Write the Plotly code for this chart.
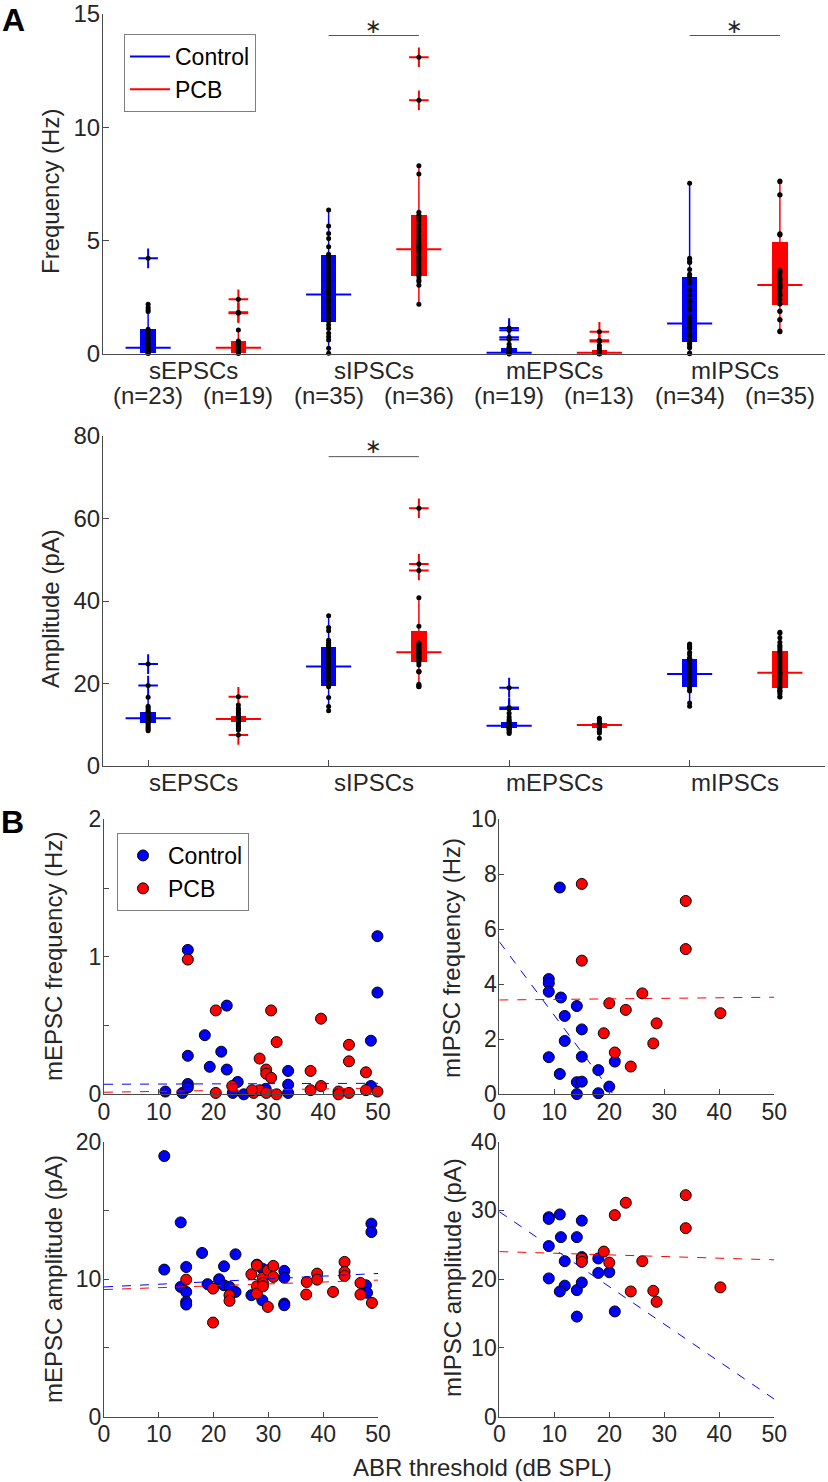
import plotly.graph_objects as go

# ---------------- Panel A data ----------------
positions = [1, 2, 3, 4, 5, 6, 7, 8]
groups = ["Control", "PCB"] * 4
categories = ["sEPSCs", "sIPSCs", "mEPSCs", "mIPSCs"]
n_labels = ["(n=23)", "(n=19)", "(n=35)", "(n=36)", "(n=19)", "(n=13)", "(n=34)", "(n=35)"]

# Frequency (Hz)
freq_q1 = [0.06, 0.06, 1.43, 3.45, 0.03, 0.02, 0.54, 2.16]
freq_med = [0.28, 0.28, 2.63, 4.62, 0.06, 0.06, 1.35, 3.04]
freq_q3 = [1.09, 0.57, 4.37, 6.13, 0.25, 0.18, 3.41, 4.95]
freq_wlo = [0.02, 0.02, 0.03, 2.19, 0.0, 0.0, 0.01, 0.98]
freq_whi = [2.2, 1.06, 6.35, 8.31, 0.43, 0.38, 7.53, 7.63]
freq_out = [[4.22], [1.8, 1.84, 2.41], [], [11.19, 13.09], [0.645, 0.74, 1.05, 1.15], [0.55, 0.61, 0.98], [], []]
freq_pts = [
    [0.02, 0.04, 0.06, 0.09, 0.12, 0.15, 0.19, 0.24, 0.28, 0.33, 0.4, 0.48, 0.56, 0.65, 0.75, 0.88, 1.0, 1.09, 1.87, 1.95, 2.05, 2.2],
    [0.02, 0.04, 0.06, 0.08, 0.1, 0.13, 0.17, 0.21, 0.25, 0.28, 0.33, 0.38, 0.45, 0.52, 0.57, 1.06],
    [0.03, 0.25, 0.62, 0.76, 0.91, 1.13, 1.28, 1.45, 1.6, 1.8, 1.95, 2.09, 2.24, 2.35, 2.46, 2.6, 2.68, 2.75, 2.82, 2.95,
     3.12, 3.25, 3.41, 3.55, 3.71, 3.85, 4.0, 4.15, 4.29, 4.4, 4.73, 5.1, 5.32, 5.65, 6.35],
    [2.19, 3.03, 3.2, 3.26, 3.4, 3.48, 3.55, 3.63, 3.75, 3.85, 3.93, 4.05, 4.15, 4.22, 4.3, 4.44, 4.55, 4.62, 4.7, 4.73,
     4.8, 4.88, 5.0, 5.1, 5.24, 5.4, 5.54, 5.7, 5.87, 6.0, 6.13, 6.25, 7.94, 8.31],
    [0.0, 0.01, 0.02, 0.02, 0.04, 0.06, 0.07, 0.075, 0.09, 0.17, 0.18, 0.2, 0.28, 0.31, 0.43],
    [0.0, 0.01, 0.02, 0.03, 0.04, 0.06, 0.12, 0.17, 0.26, 0.38],
    [0.01, 0.04, 0.28, 0.32, 0.44, 0.46, 0.62, 0.74, 0.76, 0.88, 0.91, 1.13, 1.19, 1.35, 1.37, 1.5, 1.65, 1.94, 2.1, 2.31,
     2.36, 2.6, 2.82, 2.85, 3.12, 3.21, 3.41, 3.52, 3.73, 4.04, 4.07, 4.19, 4.22, 7.53],
    [0.98, 1.01, 1.5, 1.52, 1.87, 1.9, 2.21, 2.22, 2.4, 2.58, 2.6, 2.62, 2.75, 2.9, 2.92, 2.95, 3.0, 3.04, 3.07, 3.1,
     3.2, 3.28, 3.31, 3.35, 3.5, 3.6, 3.66, 3.67, 5.25, 5.28, 5.3, 7.01, 7.03, 7.6, 7.63],
]

# Amplitude (pA)
amp_q1 = [10.35, 10.6, 19.5, 25.1, 9.13, 9.13, 19.2, 18.8]
amp_med = [11.55, 11.4, 24.1, 27.6, 9.78, 9.94, 22.3, 22.6]
amp_q3 = [13.0, 12.2, 28.8, 32.7, 10.75, 10.5, 25.9, 27.9]
amp_wlo = [8.57, 8.7, 13.4, 19.2, 7.9, 6.7, 14.5, 16.7]
amp_whi = [16.65, 14.8, 36.4, 40.8, 12.8, 11.55, 29.6, 32.4]
amp_out = [[19.5, 24.7], [7.5, 16.8], [], [47.4, 49.0, 62.5], [13.8, 14.2, 19.0], [], [], []]
amp_pts = [
    [8.57, 8.9, 9.2, 9.6, 10.0, 10.35, 10.6, 10.9, 11.2, 11.5, 11.55, 11.8, 12.1, 12.4, 12.7, 13.0, 13.3, 13.7, 14.1, 14.5, 16.65],
    [8.7, 9.1, 9.5, 9.9, 10.3, 10.6, 10.9, 11.2, 11.4, 11.7, 12.0, 12.2, 12.6, 13.0, 13.5, 14.0, 14.8],
    [13.4, 14.4, 16.6, 19.2, 19.5, 20.2, 21.0, 21.8, 22.5, 23.0, 23.5, 24.0, 24.1, 24.5, 25.0, 25.5, 26.0, 26.5, 27.0, 27.5,
     28.0, 28.5, 28.8, 29.2, 29.5, 30.0, 30.5, 32.8, 33.6, 36.4, 22.0, 24.8, 26.2, 27.8, 20.5],
    [19.2, 19.3, 19.5, 19.8, 22.9, 23.0, 24.5, 25.1, 25.5, 26.0, 26.3, 26.5, 26.8, 27.0, 27.3, 27.6, 27.9, 28.0, 28.2, 28.5,
     28.8, 29.0, 29.2, 29.5, 29.5, 29.8, 22.8, 25.8, 26.2, 27.1, 27.5, 33.9, 40.8],
    [7.9, 8.2, 8.5, 8.8, 9.0, 9.13, 9.4, 9.6, 9.78, 10.0, 10.3, 10.6, 10.9, 11.3, 11.9, 12.8],
    [6.7, 8.0, 8.4, 8.9, 9.2, 9.5, 9.8, 10.0, 10.2, 10.5, 10.9, 11.2, 11.55],
    [14.5, 15.3, 18.2, 18.4, 19.05, 19.5, 20.1, 20.9, 21.0, 21.5, 22.0, 22.3, 22.6, 23.0, 23.5, 24.0, 24.8, 25.5, 26.1, 26.1,
     27.0, 28.5, 28.75, 29.0, 29.4, 29.6, 19.8, 20.5, 21.2, 22.8, 23.3, 24.3, 25.0, 27.5],
    [16.7, 16.8, 18.2, 18.3, 18.8, 19.5, 20.5, 22.4, 22.5, 22.6, 23.0, 24.0, 25.0, 26.0, 27.4, 28.0, 29.3, 30.0, 31.1, 32.2,
     32.4, 17.5, 18.0, 19.0, 20.0, 21.0, 21.5, 22.0, 23.5, 24.5, 25.5, 26.5, 27.0, 28.5, 29.0],
]

# significance bars: (left position, right position, bar height, star height)
freq_sig = [(3, 4, 14.05, 14.45), (7, 8, 14.05, 14.45)]
amp_sig = [(3, 4, 75.0, 77.6)]

# ---------------- Panel B data ----------------
mepsc_f_ctrl_x = [11.2, 14.3, 15.3, 15.3, 15.3, 15.3, 18.4, 19.3, 21.4, 22.4, 22.4, 23.5, 24.4, 25.5, 29.5, 33.6, 33.6, 33.6, 48.7, 48.7, 49.9, 49.9]
mepsc_f_ctrl_y = [0.02, 0.01, 1.05, 0.28, 0.075, 0.05, 0.43, 0.2, 0.31, 0.645, 0.18, 0.01, 0.09, 0.0, 0.04, 0.17, 0.07, 0.01, 0.39, 0.06, 1.15, 0.74]
mepsc_f_pcb_x = [15.3, 20.4, 20.4, 23.4, 27.3, 28.4, 28.4, 29.6, 29.6, 29.6, 30.5, 30.5, 31.5, 31.5, 37.7, 37.7, 39.6, 39.6, 42.8, 42.8, 44.7, 44.7, 44.7, 47.8, 47.8, 49.9, 27.0]
mepsc_f_pcb_y = [0.98, 0.61, 0.01, 0.06, 0.01, 0.26, 0.03, 0.18, 0.15, 0.01, 0.12, 0.61, 0.38, 0.0, 0.17, 0.03, 0.55, 0.06, 0.02, 0.0, 0.36, 0.24, 0.01, 0.16, 0.03, 0.02, 0.03]

mipsc_f_ctrl_x = [11.0, 9.0, 9.0, 9.0, 11.2, 11.9, 14.1, 11.9, 15.0, 9.0, 15.0, 21.0, 18.0, 11.0, 14.1, 15.0, 20.0, 14.1, 18.0]
mipsc_f_ctrl_y = [7.52, 4.19, 4.04, 3.73, 3.52, 2.85, 3.21, 1.94, 2.36, 1.35, 1.37, 1.19, 0.88, 0.74, 0.44, 0.46, 0.28, 0.01, 0.04]
mipsc_f_pcb_x = [15.0, 33.9, 33.9, 15.0, 26.0, 20.0, 23.0, 28.6, 40.2, 19.0, 28.0, 21.0, 23.9]
mipsc_f_pcb_y = [7.65, 7.03, 5.28, 4.86, 3.67, 3.31, 3.07, 2.58, 2.95, 2.22, 1.85, 1.52, 1.01]

mepsc_a_ctrl_x = [11.0, 14.0, 11.0, 15.0, 14.0, 15.0, 15.0, 15.0, 17.9, 18.9, 21.0, 21.9, 21.9, 22.9, 24.0, 24.0, 26.9, 27.9, 28.9, 28.9, 32.9, 32.9, 32.9, 32.9, 47.8, 48.0, 48.8, 48.8]
mepsc_a_ctrl_y = [18.94, 14.12, 10.69, 10.88, 9.43, 9.07, 8.34, 8.15, 11.9, 9.63, 9.99, 10.93, 9.55, 9.43, 11.8, 9.07, 8.83, 11.05, 10.76, 8.46, 10.6, 10.1, 8.22, 8.1, 9.55, 9.0, 14.03, 13.42]
mepsc_a_pcb_x = [15.0, 19.9, 19.9, 22.9, 22.9, 26.9, 27.9, 27.9, 27.9, 29.0, 29.0, 29.0, 29.9, 29.9, 30.9, 30.9, 37.0, 36.9, 38.9, 38.9, 41.8, 43.9, 43.9, 43.9, 46.8, 46.8, 48.9]
mepsc_a_pcb_y = [9.96, 9.31, 6.84, 8.83, 8.42, 10.35, 11.0, 9.48, 8.95, 10.11, 9.72, 9.48, 7.98, 10.64, 10.96, 10.16, 9.79, 8.88, 10.4, 9.96, 9.07, 11.25, 10.52, 10.23, 9.72, 8.88, 8.27]

mipsc_a_ctrl_x = [9.0, 9.0, 11.0, 9.0, 11.2, 14.1, 15.0, 9.0, 11.9, 11.9, 11.0, 14.1, 15.0, 14.1, 15.0, 18.0, 18.0, 20.0, 21.0]
mipsc_a_ctrl_y = [29.0, 28.75, 29.4, 24.8, 26.1, 26.1, 28.5, 20.1, 22.6, 19.05, 18.2, 18.4, 19.5, 14.55, 23.2, 23.0, 20.9, 21.0, 15.3]
mipsc_a_pcb_x = [15.0, 15.0, 19.0, 20.0, 21.0, 23.0, 23.9, 26.0, 28.0, 28.6, 33.9, 33.9, 40.2]
mipsc_a_pcb_y = [23.0, 22.5, 24.0, 22.4, 29.3, 31.1, 18.2, 22.6, 18.3, 16.7, 32.2, 27.4, 18.8]

# linear fits: (intercept, slope) for Control, PCB
fit_x = [0, 50]
mepsc_f_fit = [(0.073, 0.00014), (0.015, 0.0006)]
mipsc_f_fit = [(5.55, -0.268), (3.43, 0.002)]
mepsc_a_fit = [(9.43, 0.0196), (9.24, 0.0137)]
mipsc_a_fit = [(29.8, -0.545), (24.0, -0.024)]

# ---------------- styling ----------------
BLUE = "#0000ff"
RED = "#ff0000"
TXT = "#262626"
AX = "#4a4a4a"
FONT = "Liberation Sans, Arial, sans-serif"
W, H = 828, 1482
BOX_W = 0.17
MED_HALF = 0.25

fig = go.Figure()


def col(i):
    return BLUE if groups[i] == "Control" else RED


def add_boxes(xa, ya, q1, med, q3, wlo, whi, outs, pts, legend=False):
    for i, p in enumerate(positions):
        c = col(i)
        fig.add_trace(go.Scatter(x=[p, p], y=[wlo[i], whi[i]], mode="lines", line=dict(color=c, width=1.5),
                                 xaxis=xa, yaxis=ya, showlegend=False, hoverinfo="skip"))
        fig.add_trace(go.Bar(x=[p], y=[q3[i] - q1[i]], base=[q1[i]], width=BOX_W, marker=dict(color=c, line=dict(width=0)),
                             xaxis=xa, yaxis=ya, showlegend=False, hoverinfo="skip"))
        fig.add_trace(go.Scatter(x=[p - MED_HALF, p + MED_HALF], y=[med[i], med[i]], mode="lines",
                                 line=dict(color=c, width=2), xaxis=xa, yaxis=ya,
                                 name=groups[i], showlegend=(legend and i < 2), legend="legend",
                                 hoverinfo="skip"))
        if outs[i]:
            fig.add_trace(go.Scatter(x=[p] * len(outs[i]), y=outs[i], mode="markers",
                                     marker=dict(symbol="cross-thin", size=14, line=dict(color=c, width=2)),
                                     xaxis=xa, yaxis=ya, showlegend=False, cliponaxis=False, hoverinfo="skip"))
        allp = pts[i] + outs[i]
        fig.add_trace(go.Scatter(x=[p] * len(allp), y=allp, mode="markers",
                                 marker=dict(color="black", size=5),
                                 xaxis=xa, yaxis=ya, showlegend=False, cliponaxis=False, hoverinfo="skip"))


add_boxes("x", "y", freq_q1, freq_med, freq_q3, freq_wlo, freq_whi, freq_out, freq_pts, legend=True)
add_boxes("x2", "y2", amp_q1, amp_med, amp_q3, amp_wlo, amp_whi, amp_out, amp_pts)


def add_scatter(xa, ya, cx, cy, px, py, fits, legend=False):
    for xs, ys, c, name in [(cx, cy, BLUE, "Control"), (px, py, RED, "PCB")]:
        fig.add_trace(go.Scatter(x=xs, y=ys, mode="markers", name=name,
                                 marker=dict(color=c, size=11, line=dict(color="black", width=1)),
                                 xaxis=xa, yaxis=ya, showlegend=legend, legend="legend2",
                                 cliponaxis=False, hoverinfo="skip"))
    for (b0, b1), c in zip(fits, [BLUE, RED]):
        fig.add_trace(go.Scatter(x=fit_x, y=[b0 + b1 * xv for xv in fit_x], mode="lines",
                                 line=dict(color=c, width=1, dash="dash"),
                                 xaxis=xa, yaxis=ya, showlegend=False, hoverinfo="skip"))


add_scatter("x3", "y3", mepsc_f_ctrl_x, mepsc_f_ctrl_y, mepsc_f_pcb_x, mepsc_f_pcb_y, mepsc_f_fit, legend=True)
add_scatter("x4", "y4", mipsc_f_ctrl_x, mipsc_f_ctrl_y, mipsc_f_pcb_x, mipsc_f_pcb_y, mipsc_f_fit)
add_scatter("x5", "y5", mepsc_a_ctrl_x, mepsc_a_ctrl_y, mepsc_a_pcb_x, mepsc_a_pcb_y, mepsc_a_fit)
add_scatter("x6", "y6", mipsc_a_ctrl_x, mipsc_a_ctrl_y, mipsc_a_pcb_x, mipsc_a_pcb_y, mipsc_a_fit)


def px_x(v):
    return v / W


def px_y(v):
    return 1 - v / H


base_axis = dict(showline=True, linecolor=AX, linewidth=1, zeroline=False, showgrid=False, automargin=False,
                 ticks="inside", ticklen=6, tickcolor=AX, tickwidth=1, ticklabelstandoff=-3,
                 tickfont=dict(family=FONT, size=24, color=TXT), mirror=False)

sc_tick = dict(family=FONT, size=23, color=TXT)

fig.update_layout(
    template="none",
    width=W, height=H, margin=dict(l=0, r=0, t=0, b=0, pad=0, autoexpand=False), autosize=False,
    paper_bgcolor="white", plot_bgcolor="white", barmode="overlay", bargap=0,
    font=dict(family=FONT, color=TXT),
    xaxis=dict(base_axis, domain=[px_x(103), px_x(825)], range=[0.5, 8.5], ticks="", showticklabels=False, anchor="y"),
    yaxis=dict(base_axis, domain=[px_y(354), px_y(14)], range=[0, 15], tickvals=[0, 5, 10, 15], anchor="x"),
    xaxis2=dict(base_axis, domain=[px_x(103), px_x(825)], range=[0.5, 8.5], tickvals=positions[0::2],
                showticklabels=False, anchor="y2"),
    yaxis2=dict(base_axis, domain=[px_y(766), px_y(436)], range=[0, 80], tickvals=[0, 20, 40, 60, 80], anchor="x2"),
    xaxis3=dict(base_axis, domain=[px_x(104), px_x(378)], range=[0, 50], tickvals=[0, 10, 20, 30, 40, 50],
                tickfont=sc_tick, ticklen=5, anchor="y3"),
    yaxis3=dict(base_axis, domain=[px_y(1094.3), px_y(819.3)], range=[0, 2], tickvals=[0, 0.5, 1, 1.5, 2],
                ticktext=["0", "", "1", "", "2"], tickfont=sc_tick, ticklen=5, anchor="x3"),
    xaxis4=dict(base_axis, domain=[px_x(499.3), px_x(774.3)], range=[0, 50], tickvals=[0, 10, 20, 30, 40, 50],
                tickfont=sc_tick, ticklen=5, anchor="y4"),
    yaxis4=dict(base_axis, domain=[px_y(1094.3), px_y(819.3)], range=[0, 10], tickvals=[0, 2, 4, 6, 8, 10],
                tickfont=sc_tick, ticklen=5, anchor="x4"),
    xaxis5=dict(base_axis, domain=[px_x(104), px_x(378)], range=[0, 50], tickvals=[0, 10, 20, 30, 40, 50],
                tickfont=sc_tick, ticklen=5, anchor="y5"),
    yaxis5=dict(base_axis, domain=[px_y(1416.7), px_y(1141.5)], range=[0, 20], tickvals=[0, 5, 10, 15, 20],
                ticktext=["0", "", "10", "", "20"], tickfont=sc_tick, ticklen=5, anchor="x5"),
    xaxis6=dict(base_axis, domain=[px_x(499.3), px_x(774.3)], range=[0, 50], tickvals=[0, 10, 20, 30, 40, 50],
                tickfont=sc_tick, ticklen=5, anchor="y6"),
    yaxis6=dict(base_axis, domain=[px_y(1416.7), px_y(1141.5)], range=[0, 40], tickvals=[0, 10, 20, 30, 40],
                tickfont=sc_tick, ticklen=5, anchor="x6"),
    legend=dict(x=px_x(124), y=px_y(34), xanchor="left", yanchor="top", bgcolor="white",
                bordercolor="#7f7f7f", borderwidth=1, font=dict(family=FONT, size=23, color="black"),
                tracegroupgap=0, itemwidth=40),
    legend2=dict(x=px_x(117), y=px_y(833), xanchor="left", yanchor="top", bgcolor="white",
                 bordercolor="#7f7f7f", borderwidth=1, font=dict(family=FONT, size=23, color="black"),
                 tracegroupgap=0, itemwidth=40),
)

# category & n labels
ann = []
for k, cat in enumerate(categories):
    mid = (positions[2 * k] + positions[2 * k + 1]) / 2
    ann.append(dict(x=mid, y=px_y(370), xref="x", yref="paper", text=cat, showarrow=False,
                    font=dict(family=FONT, size=24, color=TXT), xanchor="center", yanchor="middle"))
    ann.append(dict(x=mid, y=px_y(782), xref="x2", yref="paper", text=cat, showarrow=False,
                    font=dict(family=FONT, size=24, color=TXT), xanchor="center", yanchor="middle"))
for i, lab in enumerate(n_labels):
    ann.append(dict(x=positions[i], y=px_y(395), xref="x", yref="paper", text=lab, showarrow=False,
                    font=dict(family=FONT, size=24, color=TXT), xanchor="center", yanchor="middle"))

# significance
shapes = []
for (a, b, yb, ys), (xr, yr) in [(s, ("x", "y")) for s in freq_sig] + [(s, ("x2", "y2")) for s in amp_sig]:
    shapes.append(dict(type="line", x0=a, x1=b, y0=yb, y1=yb, xref=xr, yref=yr, line=dict(color="#555555", width=1)))
    ann.append(dict(x=(a + b) / 2, y=ys, xref=xr, yref=yr, text="∗", showarrow=False,
                    font=dict(family="DejaVu Sans", size=20, color=TXT), xanchor="center", yanchor="middle"))

# axis titles
titles = [
    ("Frequency (Hz)", 50, 192),
    ("Amplitude (pA)", 50, 609),
    ("mEPSC frequency (Hz)", 53, 957),
    ("mIPSC frequency (Hz)", 451, 958),
    ("mEPSC amplitude (pA)", 53, 1279),
    ("mIPSC amplitude (pA)", 452, 1278),
]
for t, xpx, ypx in titles:
    ann.append(dict(x=px_x(xpx), y=px_y(ypx), xref="paper", yref="paper", text=t, textangle=-90, showarrow=False,
                    font=dict(family=FONT, size=24, color=TXT), xanchor="center", yanchor="middle"))
ann.append(dict(x=px_x(482), y=px_y(1467), xref="paper", yref="paper", text="ABR threshold (dB SPL)", showarrow=False,
                font=dict(family=FONT, size=24, color=TXT), xanchor="center", yanchor="middle"))
ann.append(dict(x=px_x(14), y=px_y(20), xref="paper", yref="paper", text="<b>A</b>", showarrow=False,
                font=dict(family=FONT, size=32, color="black"), xanchor="center", yanchor="middle"))
ann.append(dict(x=px_x(12), y=px_y(822), xref="paper", yref="paper", text="<b>B</b>", showarrow=False,
                font=dict(family=FONT, size=32, color="black"), xanchor="center", yanchor="middle"))

fig.update_layout(annotations=ann, shapes=shapes)
fig.write_html("out.html", config={"displayModeBar": False, "staticPlot": True},
               post_script="document.body.style.margin='0';document.body.style.overflow='hidden';")
